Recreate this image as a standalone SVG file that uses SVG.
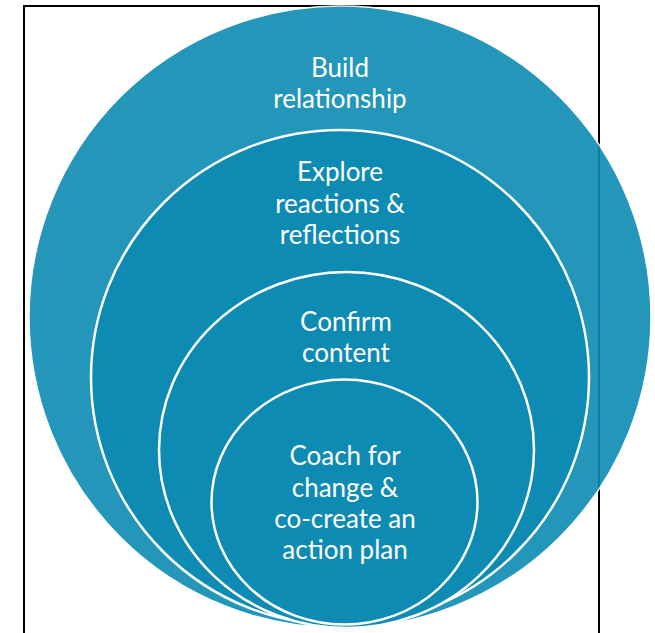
<svg xmlns="http://www.w3.org/2000/svg" width="655" height="633" viewBox="0 0 655 633">
<style>
.lbl{font-family:"Lato","Liberation Sans",sans-serif;font-size:26px;fill:#ffffff;text-anchor:middle}
.ring{fill:#0e8bb3;stroke:#ffffff;stroke-width:2.5}
</style>
<rect x="0" y="0" width="655" height="633" fill="#ffffff"/>
<rect id="frame" x="24" y="6" width="575" height="640" fill="none" stroke="#000000" stroke-width="2"/>
<g id="build">
<circle cx="340" cy="317" r="311" fill="#0c8bb2" stroke="#ffffff" stroke-width="1.5" opacity="0.9"/>
<text class="lbl" x="340" y="77">Build</text>
<text class="lbl" x="340" y="108">relationship</text>
</g>
<g id="explore">
<ellipse class="ring" cx="340" cy="377.5" rx="249" ry="247.5"/>
<text class="lbl" x="340" y="181">Explore</text>
<text class="lbl" x="340" y="212.5">reactions &amp;</text>
<text class="lbl" x="340" y="244">reflections</text>
</g>
<g id="confirm">
<ellipse class="ring" cx="346.5" cy="450" rx="187.5" ry="178"/>
<text class="lbl" x="346" y="331">Confirm</text>
<text class="lbl" x="346" y="362">content</text>
</g>
<g id="coach">
<ellipse class="ring" cx="344.5" cy="502" rx="133" ry="122.5"/>
<text class="lbl" x="345" y="465">Coach for</text>
<text class="lbl" x="345" y="497">change &amp;</text>
<text class="lbl" x="345" y="528">co-create an</text>
<text class="lbl" x="345" y="559">action plan</text>
</g>
<g id="connectors"/>
</svg>
